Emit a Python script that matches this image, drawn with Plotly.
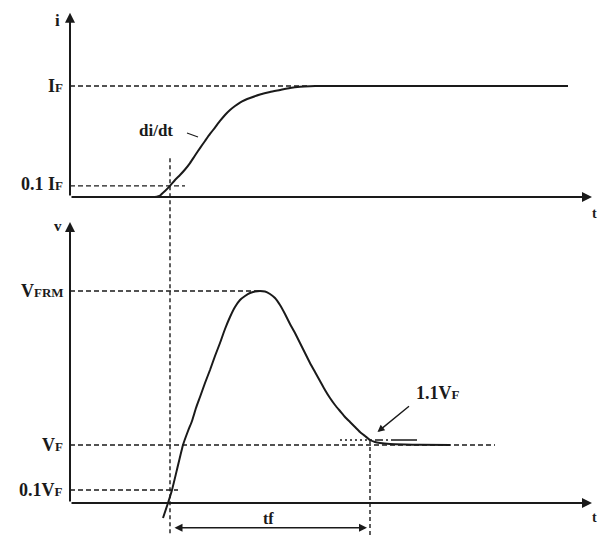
import plotly.graph_objects as go

# ---- forward-recovery waveforms (normalised units) ----
# current, as a fraction of I_F
t_current = [17, 18, 19, 20, 21, 22, 23, 24, 25, 26, 27, 28, 29, 30, 31, 32, 33, 34,
             35, 36, 38, 40, 42, 44, 46, 48, 50, 99.6]
i_current = [0, 0.0135, 0.054, 0.1, 0.153, 0.198, 0.248, 0.306, 0.374, 0.441, 0.505,
             0.568, 0.626, 0.685, 0.739, 0.784, 0.820, 0.851, 0.874, 0.892, 0.923,
             0.946, 0.964, 0.982, 0.993, 0.998, 1.0, 1.0]

# voltage, as a fraction of V_F
t_voltage = [18.6, 19.6, 20.4, 21.4, 22.6, 23.6, 24.4, 25.2, 26, 27, 28, 29, 30, 31,
             32, 33, 34, 35, 36, 37, 38, 39, 40, 41, 42, 43, 44, 45, 46, 47, 48, 49,
             50, 51, 52, 53, 54, 55, 56, 57, 58, 59, 60, 61, 62, 64, 67, 70, 76]
v_voltage = [-0.46, -0.16, 0.10, 0.51, 1.00, 1.28, 1.48, 1.74, 1.96, 2.24, 2.50, 2.78,
             3.04, 3.32, 3.56, 3.76, 3.90, 3.98, 4.04, 4.07, 4.08, 4.07, 4.02, 3.94,
             3.80, 3.62, 3.42, 3.24, 3.04, 2.84, 2.64, 2.46, 2.28, 2.10, 1.94, 1.80,
             1.68, 1.56, 1.46, 1.36, 1.26, 1.18, 1.10, 1.06, 1.04, 1.02, 1.01, 1.004, 1.0]

# reference levels
I_F = 1.0
V_F = 1.0
V_FRM = max(v_voltage)

# timing markers: 0.1 I_F crossing and 1.1 V_F crossing
t_start = 20
t_end = 60

# extents of the dashed level lines along t
level_lines_i = [(I_F, 48), (0.1 * I_F, 23)]
level_lines_v = [(V_FRM, 38.3), (V_F, 85), (0.1 * V_F, 21.6)]

INK = "#1a1a1a"
SERIF = "Liberation Serif, Times New Roman, serif"

fig = go.Figure()

# dashed level lines
for lvl, t1 in level_lines_i:
    fig.add_trace(go.Scatter(x=[0, t1], y=[lvl, lvl], mode="lines",
                             line=dict(color=INK, width=1.4, dash="5px,3px"),
                             hoverinfo="skip", showlegend=False))
for lvl, t1 in level_lines_v:
    fig.add_trace(go.Scatter(x=[0, t1], y=[lvl, lvl], mode="lines", yaxis="y2",
                             line=dict(color=INK, width=1.4, dash="5px,3px"),
                             hoverinfo="skip", showlegend=False))
# 1.1 V_F dash-dot marker line
fig.add_trace(go.Scatter(
    x=[54, 69.4], y=[1.1 * V_F, 1.1 * V_F], mode="lines", yaxis="y2",
    line=dict(color=INK, width=1.4,
              dash="2px,3px,2px,3px,2px,3px,2px,3px,2px,3px,2px,3px,2px,3px,8px,3px,2px,3px,26px,200px"),
    hoverinfo="skip", showlegend=False))

# waveforms
fig.add_trace(go.Scatter(x=t_current, y=i_current, mode="lines",
                         line=dict(color=INK, width=2, shape="spline", smoothing=0.4),
                         hoverinfo="skip", showlegend=False))
fig.add_trace(go.Scatter(x=t_voltage, y=v_voltage, mode="lines", yaxis="y2",
                         line=dict(color=INK, width=2, shape="spline", smoothing=0.4),
                         hoverinfo="skip", showlegend=False))

# vertical dotted timing lines
fig.add_shape(type="line", xref="x", yref="y", x0=t_start, x1=t_start, y0=0.35, y1=-3.2,
              line=dict(color=INK, width=1.4, dash="4px,3px"))
fig.add_shape(type="line", xref="x", yref="y2", x0=t_end, x1=t_end, y0=1.1 * V_F, y1=-1.0,
              line=dict(color=INK, width=1.4, dash="4px,3px"))

annotations = []

def arrow(x, y, ax, ay, yref, width=2, side="end"):
    annotations.append(dict(x=x, y=y, ax=ax, ay=ay, xref="x", yref=yref,
                            axref="x", ayref=yref, text="", showarrow=True,
                            arrowhead=2, arrowsize=1, arrowwidth=width,
                            arrowcolor=INK, arrowside=side,
                            standoff=0, startstandoff=0))

# axes
V_AXIS_LEVEL = -0.16
arrow(0, 1.66, 0, 0, "y")                          # i axis
arrow(104.4, 0, 0, 0, "y")                         # t axis (current)
arrow(0, 5.46, 0, V_AXIS_LEVEL, "y2")              # v axis
arrow(104.4, V_AXIS_LEVEL, 0, V_AXIS_LEVEL, "y2")  # t axis (voltage)

# t_f span
arrow(t_end - 0.6, -0.654, t_start + 0.6, -0.654, "y2", width=1.6, side="end+start")

# 1.1 V_F pointer
annotations.append(dict(x=61.5, y=1.26, xref="x", yref="y2", text="", showarrow=True,
                        ax=33, ay=-27, arrowhead=2, arrowsize=1, arrowwidth=1.4,
                        arrowcolor=INK, standoff=0))

def label(x, y, text, yref, xanchor="center", size=18, xshift=0):
    annotations.append(dict(x=x, y=y, xref="x", yref=yref, text=text, showarrow=False,
                            xanchor=xanchor, yanchor="middle", xshift=xshift,
                            borderpad=0,
                            font=dict(family=SERIF, size=size, color=INK)))

def sub(s):
    return f"<span style='font-size:13px'>{s}</span>"

# axis names
label(-2.6, 1.59, "<b>i</b>", "y", size=17)
label(-2.4, 5.38, "<b>v</b>", "y2", size=15)
label(105.55, -0.145, "<b>t</b>", "y", xanchor="right", size=14)
label(105.55, -0.44, "<b>t</b>", "y2", xanchor="right", size=14)

# level labels on the vertical axes
label(0, I_F, "<b>I" + sub("F") + "</b>", "y", xanchor="right", xshift=-6)
label(0, 0.12 * I_F, "<b>0.1 I" + sub("F") + "</b>", "y", xanchor="right", xshift=-6)
label(0, V_FRM, "<b>V" + sub("FRM") + "</b>", "y2", xanchor="right", xshift=-5)
label(0, V_F, "<b>V" + sub("F") + "</b>", "y2", xanchor="right", xshift=-6)
label(0, 0.1 * V_F, "<b>0.1V" + sub("F") + "</b>", "y2", xanchor="right", xshift=-6)

# curve annotations
label(13.6, 0.60, "<b>di/dt</b>", "y", xanchor="left", size=17)
fig.add_shape(type="line", xref="x", yref="y", x0=23.4, x1=25.6, y0=0.577, y1=0.541,
              line=dict(color=INK, width=1.2))
label(69.0, 2.04, "<b>1.1V" + sub("F") + "</b>", "y2", xanchor="left")
label(39.6, -0.46, "<b>tf</b>", "y2", size=16)

fig.update_layout(
    width=598, height=536,
    margin=dict(l=0, r=0, t=0, b=0),
    paper_bgcolor="white", plot_bgcolor="white",
    xaxis=dict(range=[-14, 105.6], visible=False, fixedrange=True),
    yaxis=dict(range=[-3.054, 1.775], visible=False, fixedrange=True),
    yaxis2=dict(range=[-0.82, 9.9], overlaying="y", visible=False, fixedrange=True),
    annotations=annotations,
    showlegend=False,
)

fig.write_html("out.html")
